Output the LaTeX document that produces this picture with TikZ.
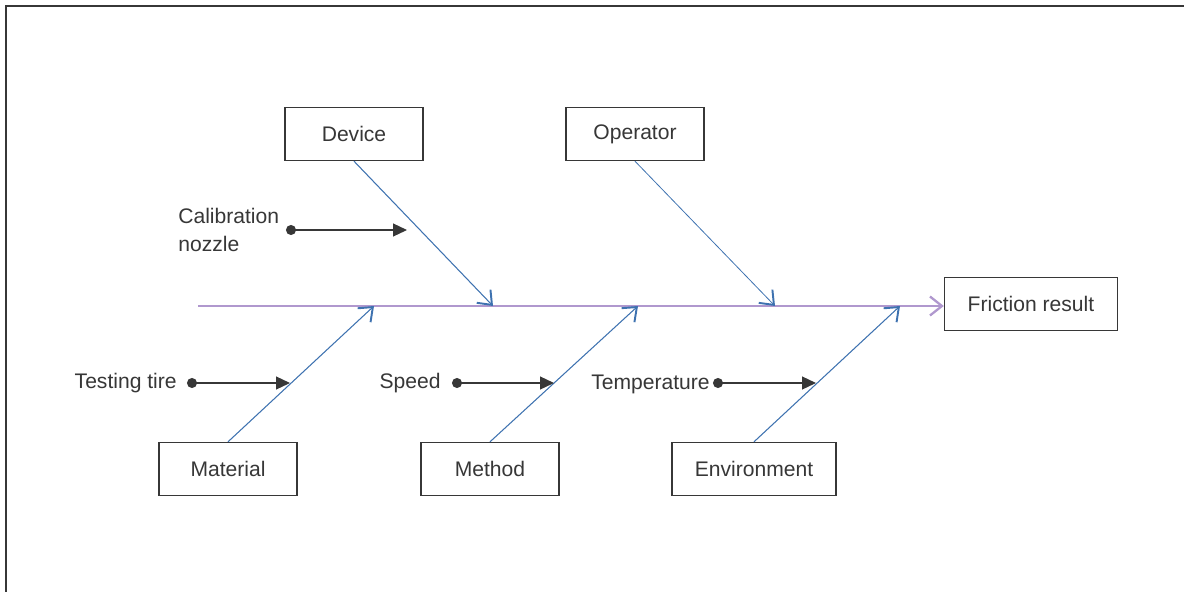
\documentclass[tikz,border=0pt]{standalone}
\usepackage{fontspec}
\setmainfont{Liberation Sans}
\usetikzlibrary{arrows.meta}
\definecolor{bonecol}{RGB}{62,114,176}
\definecolor{spinecol}{RGB}{176,152,206}
\definecolor{ink}{RGB}{55,55,55}

\tikzset{
  cause/.style={draw=ink, line width=0.8pt, text=ink, minimum width=2.76cm, minimum height=1.06cm, font=\fontsize{12}{14}\selectfont},
  bone/.style={bonecol, line width=0.6pt, -{Straight Barb[length=2.4mm,width=3.8mm,line width=1.1pt]}},
  sub/.style={ink, line width=0.7pt, {Circle[length=2mm]}-{Triangle[length=2.8mm,width=2.6mm]}},
  lbl/.style={text=ink, inner sep=0pt, font=\fontsize{12}{16}\selectfont}
}

\begin{document}
\begin{tikzpicture}[x=0.02cm, y=-0.02cm]
    \useasboundingbox (0,0) rectangle (1184,592);
    % frame
    \draw[ink, line width=1.2pt] (1184,6) -- (6,6) -- (6,592);

    % effect and spine
    \node[cause, minimum width=3.46cm] (result) at (1031,304) {Friction result};
    \coordinate (tail) at (198,306);
    \draw[spinecol, line width=1.4pt, -{Straight Barb[length=2.4mm,width=3.8mm,line width=1.3pt]}] (tail) -- (tail -| result.west);

    % main causes
    \node[cause] (device) at (354,134) {Device};
    \node[cause] (operator) at (635,134) {Operator};
    \node[cause] (material) at (228,469) {Material};
    \node[cause] (method) at (490,469) {Method};
    \node[cause, minimum width=3.28cm] (environment) at (754,469) {Environment};

    \coordinate (jdevice) at (493,306);
    \coordinate (joperator) at (775,306);
    \coordinate (jmaterial) at (374,306);
    \coordinate (jmethod) at (638,306);
    \coordinate (jenvironment) at (900,306);

    \draw[bone] (device.south) -- (jdevice);
    \draw[bone, line width=0.45pt] (operator.south) -- (joperator);
    \draw[bone] (material.north) -- (jmaterial);
    \draw[bone] (method.north) -- (jmethod);
    \draw[bone] (environment.north) -- (jenvironment);

    % sub causes
    \node[lbl, anchor=west, align=left] (calib) at (178,230) {Calibration\\nozzle};
    \node[lbl, anchor=east] (tire) at (177,383) {Testing tire};
    \node[lbl, anchor=east] (speed) at (441,383) {Speed};
    \node[lbl, anchor=east] (temp) at (710,384) {Temperature};

    \coordinate (calib0) at (286,230);
    \coordinate (calib1) at (407,230);
    \coordinate (tire0) at (187,383);
    \coordinate (tire1) at (290,383);
    \coordinate (speed0) at (452,383);
    \coordinate (speed1) at (554,383);
    \coordinate (temp0) at (713,383);
    \coordinate (temp1) at (816,383);

    \draw[sub] (calib0) -- (calib1);
    \draw[sub] (tire0) -- (tire1);
    \draw[sub] (speed0) -- (speed1);
    \draw[sub] (temp0) -- (temp1);
\end{tikzpicture}
\end{document}
